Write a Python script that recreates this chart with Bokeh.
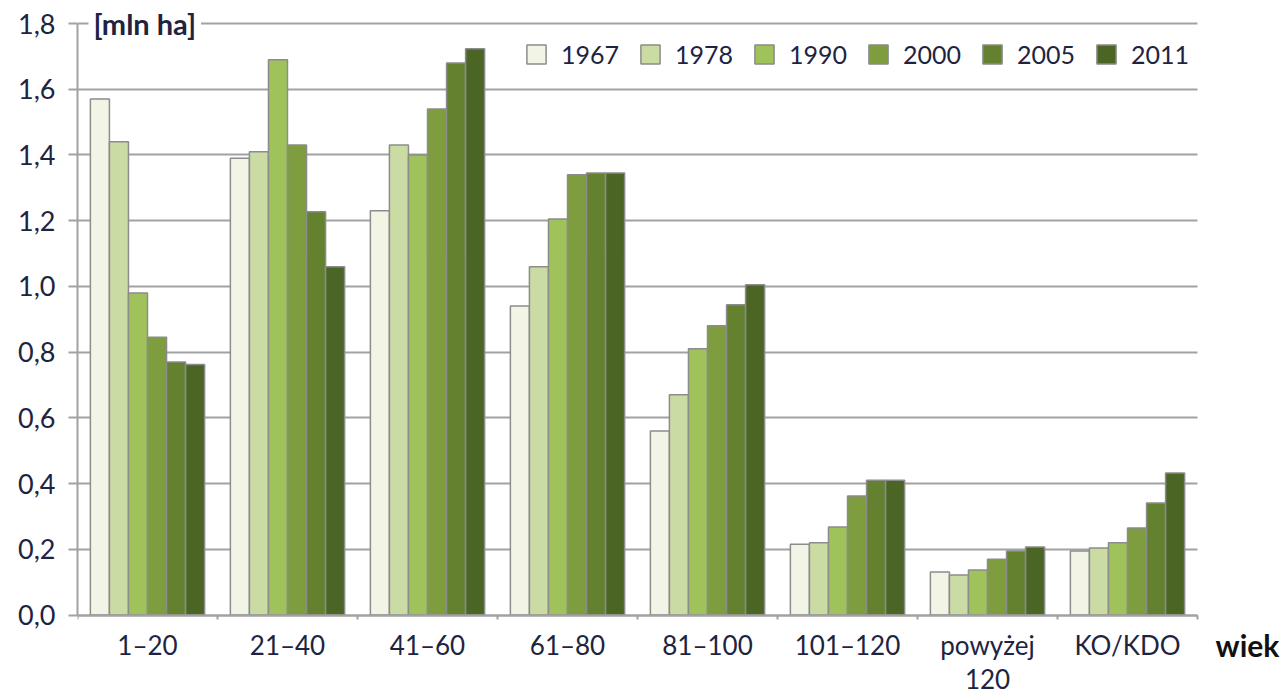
from bokeh.plotting import figure
from bokeh.models import (Range1d, Legend, LegendItem, Label, LinearAxis,
                          CustomJSTickFormatter, FixedTicker, ColumnDataSource)
from bokeh.embed import file_html
from bokeh.resources import INLINE

categories = ["1–20", "21–40", "41–60", "61–80", "81–100", "101–120", "powyżej 120", "KO/KDO"]
years = ["1967", "1978", "1990", "2000", "2005", "2011"]
v1967 = [1.57, 1.39, 1.23, 0.94, 0.56, 0.215, 0.131, 0.195]
v1978 = [1.44, 1.41, 1.43, 1.06, 0.67, 0.22, 0.122, 0.204]
v1990 = [0.98, 1.69, 1.40, 1.205, 0.81, 0.268, 0.137, 0.22]
v2000 = [0.845, 1.43, 1.54, 1.34, 0.88, 0.362, 0.17, 0.265]
v2005 = [0.77, 1.227, 1.68, 1.345, 0.944, 0.41, 0.195, 0.341]
v2011 = [0.762, 1.06, 1.723, 1.345, 1.005, 0.41, 0.207, 0.432]
series = [v1967, v1978, v1990, v2000, v2005, v2011]
colors = ["#f2f5e6", "#cbdba4", "#a0c25a", "#7d9d3e", "#63812f", "#4b6525"]
y_ticks = [0.0, 0.2, 0.4, 0.6, 0.8, 1.0, 1.2, 1.4, 1.6, 1.8]
y_unit = "[mln ha]"
x_unit = "wiek"

# layout constants (pixels)
W, H = 1285, 699
LEFT, TOP = 77, 3
ZERO_Y = 614.5          # pixel row of value 0
PX_PER_UNIT_Y = 328.6
PX_PER_CAT = 140.0

n = len(categories)
centers = [i + 0.5 for i in range(n)]
bounds_x = [float(i) for i in range(n + 1)]
row1 = [c.split(" ", 1)[0] for c in categories]
row2 = [c.split(" ", 1)[1] if " " in c else "" for c in categories]

y_top = (ZERO_Y - TOP) / PX_PER_UNIT_Y
y_start = -(H - ZERO_Y) / PX_PER_UNIT_Y
x_end = (W - LEFT) / PX_PER_CAT

FONT = "Lato"
TXT = "#1e2440"
GRID = "#a2a2a2"

p = figure(width=W, height=H, x_range=Range1d(0, x_end), y_range=Range1d(y_start, y_top),
           output_backend="svg", toolbar_location=None, x_axis_location=None,
           min_border_left=LEFT, min_border_right=0, min_border_top=TOP, min_border_bottom=0)
p.outline_line_color = None
p.background_fill_color = "white"
p.border_fill_color = "white"

# horizontal grid lines limited to the category span
p.xgrid.visible = False
p.ygrid.ticker = FixedTicker(ticks=y_ticks)
p.ygrid.grid_line_color = GRID
p.ygrid.grid_line_width = 2
if "cross_bounds" in p.ygrid[0].properties():
    p.ygrid.cross_bounds = (0, n)
else:
    p.ygrid.visible = False
    p.segment(x0=[0] * len(y_ticks), x1=[n] * len(y_ticks), y0=y_ticks, y1=y_ticks,
              line_color=GRID, line_width=2)

bw = 0.136
offsets = [(k - 2.5) * bw for k in range(len(years))]
items = []
for y, s, c, off in zip(years, series, colors, offsets):
    src = ColumnDataSource(dict(x=[cx + off for cx in centers], top=s))
    r = p.vbar(x="x", top="top", width=bw, bottom=0, source=src,
               fill_color=c, line_color="#8c8c8c", line_width=1.5)
    items.append(LegendItem(label=y, renderers=[r]))

# y axis
p.yaxis.ticker = FixedTicker(ticks=y_ticks)
p.yaxis.bounds = (0, y_ticks[-1])
p.yaxis.formatter = CustomJSTickFormatter(code="return tick.toFixed(1).replace('.', ',');")
p.yaxis.axis_line_color = GRID
p.yaxis.axis_line_width = 2
p.yaxis.major_tick_line_color = GRID
p.yaxis.major_tick_line_width = 2
p.yaxis.major_tick_in = 0
p.yaxis.major_tick_out = 9
p.yaxis.minor_tick_line_color = None
p.yaxis.major_label_standoff = 13
p.yaxis.major_label_text_font = FONT
p.yaxis.major_label_text_font_size = "27px"
p.yaxis.major_label_text_color = TXT

# x axes at y = 0 (first and second line of the category labels)
def cat_axis(labels, standoff, line):
    ax = LinearAxis(fixed_location=0, bounds=(0, n),
                    ticker=FixedTicker(ticks=centers, minor_ticks=bounds_x if line else []),
                    formatter=CustomJSTickFormatter(args=dict(labels=labels),
                                                    code="return labels[Math.floor(tick)];"))
    ax.axis_line_color = GRID if line else None
    ax.axis_line_width = 2
    ax.major_tick_line_color = None
    ax.major_tick_in = 0
    ax.major_tick_out = 0
    ax.minor_tick_line_color = GRID if line else None
    ax.minor_tick_line_width = 2
    ax.minor_tick_in = 0
    ax.minor_tick_out = 4
    ax.major_label_standoff = standoff
    ax.major_label_text_font = FONT
    ax.major_label_text_font_size = "26px"
    ax.major_label_text_color = TXT
    p.add_layout(ax, "below")
    return ax

cat_axis(row1, 10, True)
cat_axis(row2, 54, False)

legend = Legend(items=items, orientation="horizontal",
                location=(447, H - 69),
                label_text_font=FONT, label_text_font_size="25px", label_text_color=TXT,
                glyph_width=24, glyph_height=24, label_standoff=13, spacing=19,
                background_fill_color="white", background_fill_alpha=1,
                border_line_color=None, margin=0, padding=6)
p.add_layout(legend)

p.add_layout(Label(x=11 / PX_PER_CAT, y=y_ticks[-1], text=y_unit, text_font=FONT,
                   text_font_style="bold", text_font_size="29px", text_color=TXT,
                   text_baseline="middle", background_fill_color="white", padding=5))
p.add_layout(Label(x=n + 50 / PX_PER_CAT, y=-(644 - ZERO_Y) / PX_PER_UNIT_Y, text=x_unit,
                   text_font=FONT, text_font_style="bold", text_font_size="30px",
                   text_color="#111111", text_baseline="middle", text_align="center"))

open("out.html", "w").write(file_html(p, INLINE))
